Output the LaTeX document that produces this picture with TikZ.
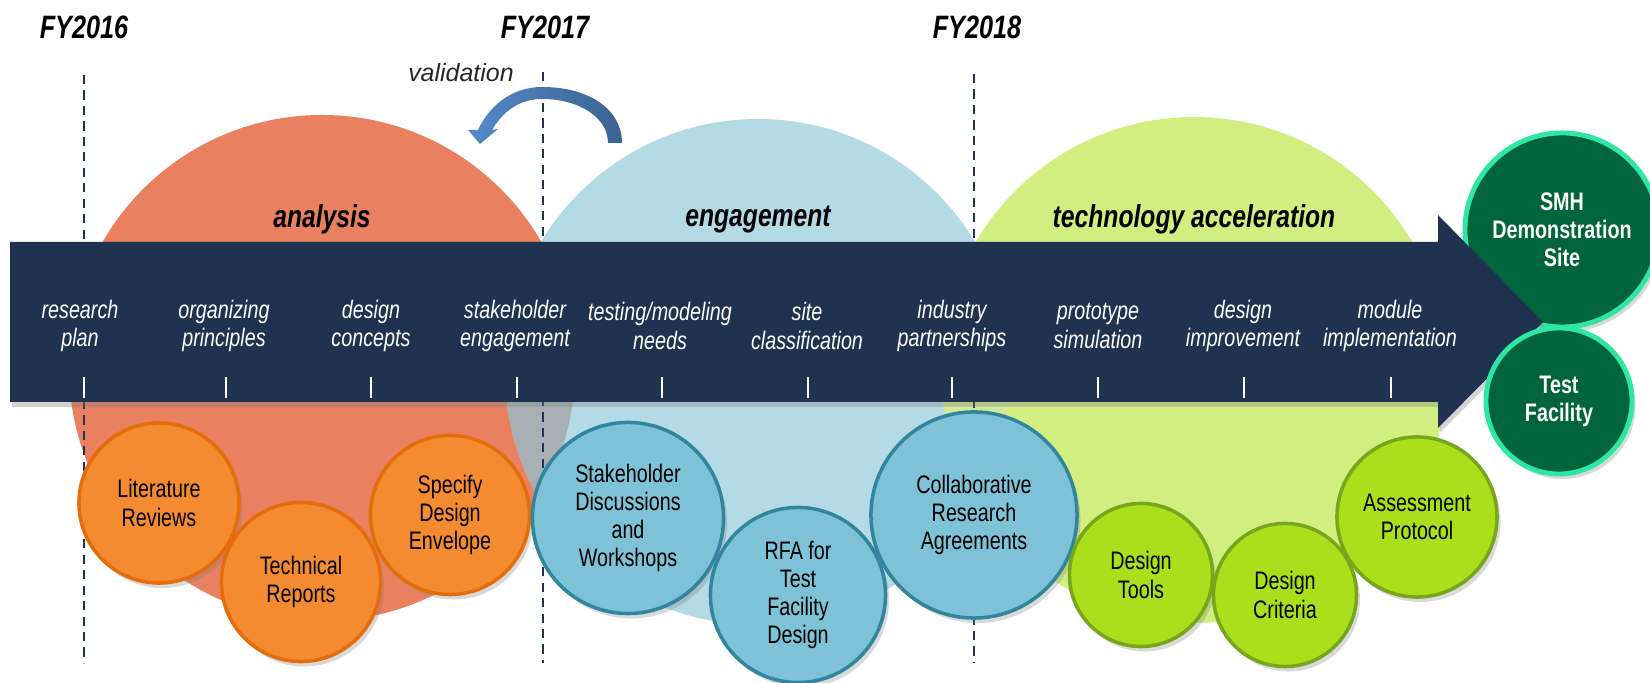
\documentclass[tikz,border=0pt]{standalone}
\usepackage{fontspec}
\setmainfont{Liberation Sans}
\newfontfamily\narrowsans{Liberation Sans}[FakeStretch=0.78]
\usetikzlibrary{shapes,positioning,shadows}

\definecolor{bandnavy}{HTML}{1F3350}
\definecolor{salmon}{HTML}{E9805F}
\definecolor{skyblue}{HTML}{B3DAE5}
\definecolor{limebg}{HTML}{D2EE81}
\definecolor{lensgrey}{HTML}{A8B0B3}
\definecolor{lensgreen}{HTML}{D3EA98}
\definecolor{orangefill}{HTML}{F58B30}
\definecolor{orangeline}{HTML}{E46C0A}
\definecolor{bluefill}{HTML}{7DC2D6}
\definecolor{blueline}{HTML}{31859C}
\definecolor{greenfill}{HTML}{A9E01B}
\definecolor{greenline}{HTML}{77A51C}
\definecolor{darkgreen}{HTML}{00643C}
\definecolor{mintline}{HTML}{30E6A4}
\definecolor{loopleft}{HTML}{5589C9}
\definecolor{loopright}{HTML}{3A6391}

\begin{document}
\begin{tikzpicture}[
    x=0.01cm, y=-0.01cm,
    yearlabel/.style={font=\narrowsans\bfseries\itshape\fontsize{9.2}{11}\selectfont},
    phase/.style={font=\narrowsans\bfseries\itshape\fontsize{9}{11}\selectfont},
    stage/.style={text=white, align=center, font=\narrowsans\itshape\fontsize{7.2}{8.2}\selectfont},
    tickmark/.style={white, line width=0.8pt},
    yearline/.style={draw=bandnavy, line width=0.6pt, dash pattern=on 2.6pt off 1.8pt},
    bubble/.style={circle, draw, line width=1pt, inner sep=0pt, align=center, font=\narrowsans\fontsize{7.2}{8}\selectfont,
        drop shadow={shadow xshift=0.035cm, shadow yshift=-0.05cm, opacity=0.3}},
    analysisbub/.style={bubble, fill=orangefill, draw=orangeline},
    engagebub/.style={bubble, fill=bluefill, draw=blueline},
    techbub/.style={bubble, fill=greenfill, draw=greenline},
    outcome/.style={bubble, fill=darkgreen, draw=mintline, line width=1.4pt, text=white,
        font=\narrowsans\bfseries\fontsize{7.2}{8}\selectfont}
]
    \useasboundingbox (0,0) rectangle (1650,683);

    % Phase backgrounds
    \fill[salmon] (322,368) circle [radius=253];
    \fill[skyblue] (758,372) circle [radius=253];
    \fill[limebg] (1194,370) circle [radius=253];
    \begin{scope}
        \clip (322,368) circle [radius=253];
        \fill[lensgrey] (758,372) circle [radius=253];
    \end{scope}
    \begin{scope}
        \clip (1194,370) circle [radius=253];
        \fill[lensgreen] (758,372) circle [radius=253];
    \end{scope}

    % Fiscal years
    \node[yearlabel] (fy16) at (84,27) {FY2016};
    \node[yearlabel] (fy17) at (545,27) {FY2017};
    \node[yearlabel] (fy18) at (977,27) {FY2018};
    \draw[yearline] (84,75) -- (84,663);
    \draw[yearline] (543,72) -- (543,663);
    \draw[yearline] (974,74) -- (974,663);

    % Validation loop
    \node[font=\itshape\fontsize{7.1}{8}\selectfont, text=black!85] (validation) at (461,73) {validation};
    \path[left color=loopleft, right color=loopright]
        (622,143) .. controls (622,110) and (590,87) .. (542,87)
        .. controls (510,87) and (488,108) .. (478,130)
        -- (468,130) -- (480,144) -- (498,129) -- (492,130)
        .. controls (502,113) and (518,99) .. (542,99)
        .. controls (580,99) and (608,118) .. (608,143) -- cycle;

    % Outcome behind the band
    \node[outcome, minimum size=1.94cm] (smh) at (1562,230) {SMH\\Demonstration\\Site};

    % Timeline band
    \fill[bandnavy, drop shadow={shadow xshift=0.02cm, shadow yshift=-0.05cm, opacity=0.35}]
        (10,242) -- (1438,242) -- (1438,215) -- (1543,322) -- (1438,428) -- (1438,402) -- (10,402) -- cycle;

    % Phases
    \node[phase] (analysis) at (322,219) {analysis};
    \node[phase] (engagement) at (758,219) {engagement};
    \node[phase] (techacc) at (1194,219) {technology acceleration};

    % Stages along the band
    \node[stage] (plan) at (80,326) {research\\plan};
    \node[stage] (principles) at (224,326) {organizing\\principles};
    \node[stage] (concepts) at (371,326) {design\\concepts};
    \node[stage] (stakeholder) at (515,326) {stakeholder\\engagement};
    \node[stage] (needs) at (660,326) {testing/modeling\\needs};
    \node[stage] (siteclass) at (807,326) {site\\classification};
    \node[stage] (partners) at (952,326) {industry\\partnerships};
    \node[stage] (prototype) at (1098,326) {prototype\\simulation};
    \node[stage] (improve) at (1243,326) {design\\improvement};
    \node[stage] (module) at (1390,326) {module\\implementation};

    \draw[tickmark] (84,377) -- (84,398);
    \draw[tickmark] (226,377) -- (226,398);
    \draw[tickmark] (371,377) -- (371,398);
    \draw[tickmark] (517,377) -- (517,398);
    \draw[tickmark] (662,377) -- (662,398);
    \draw[tickmark] (808,377) -- (808,398);
    \draw[tickmark] (952,377) -- (952,398);
    \draw[tickmark] (1098,377) -- (1098,398);
    \draw[tickmark] (1244,377) -- (1244,398);
    \draw[tickmark] (1391,377) -- (1391,398);

    % Outcome in front of the band
    \node[outcome, minimum size=1.46cm] (testfac) at (1559,401) {Test\\Facility};

    % Analysis products
    \node[analysisbub, minimum size=1.6cm] (litrev) at (159,503) {Literature\\Reviews};
    \node[analysisbub, minimum size=1.59cm] (techrep) at (301,582) {Technical\\Reports};
    \node[analysisbub, minimum size=1.59cm] (envelope) at (450,515) {Specify\\Design\\Envelope};

    % Engagement products
    \node[engagebub, minimum size=1.91cm] (discuss) at (628,518) {Stakeholder\\Discussions\\and\\Workshops};
    \node[engagebub, minimum size=1.75cm] (rfa) at (798,595) {RFA for\\Test\\Facility\\Design};
    \node[engagebub, minimum size=2.06cm] (collab) at (974,515) {Collaborative\\Research\\Agreements};

    % Technology acceleration products
    \node[techbub, minimum size=1.43cm] (tools) at (1141,575) {Design\\Tools};
    \node[techbub, minimum size=1.43cm] (criteria) at (1285,595) {Design\\Criteria};
    \node[techbub, minimum size=1.6cm] (protocol) at (1417,517) {Assessment\\Protocol};
\end{tikzpicture}
\end{document}
